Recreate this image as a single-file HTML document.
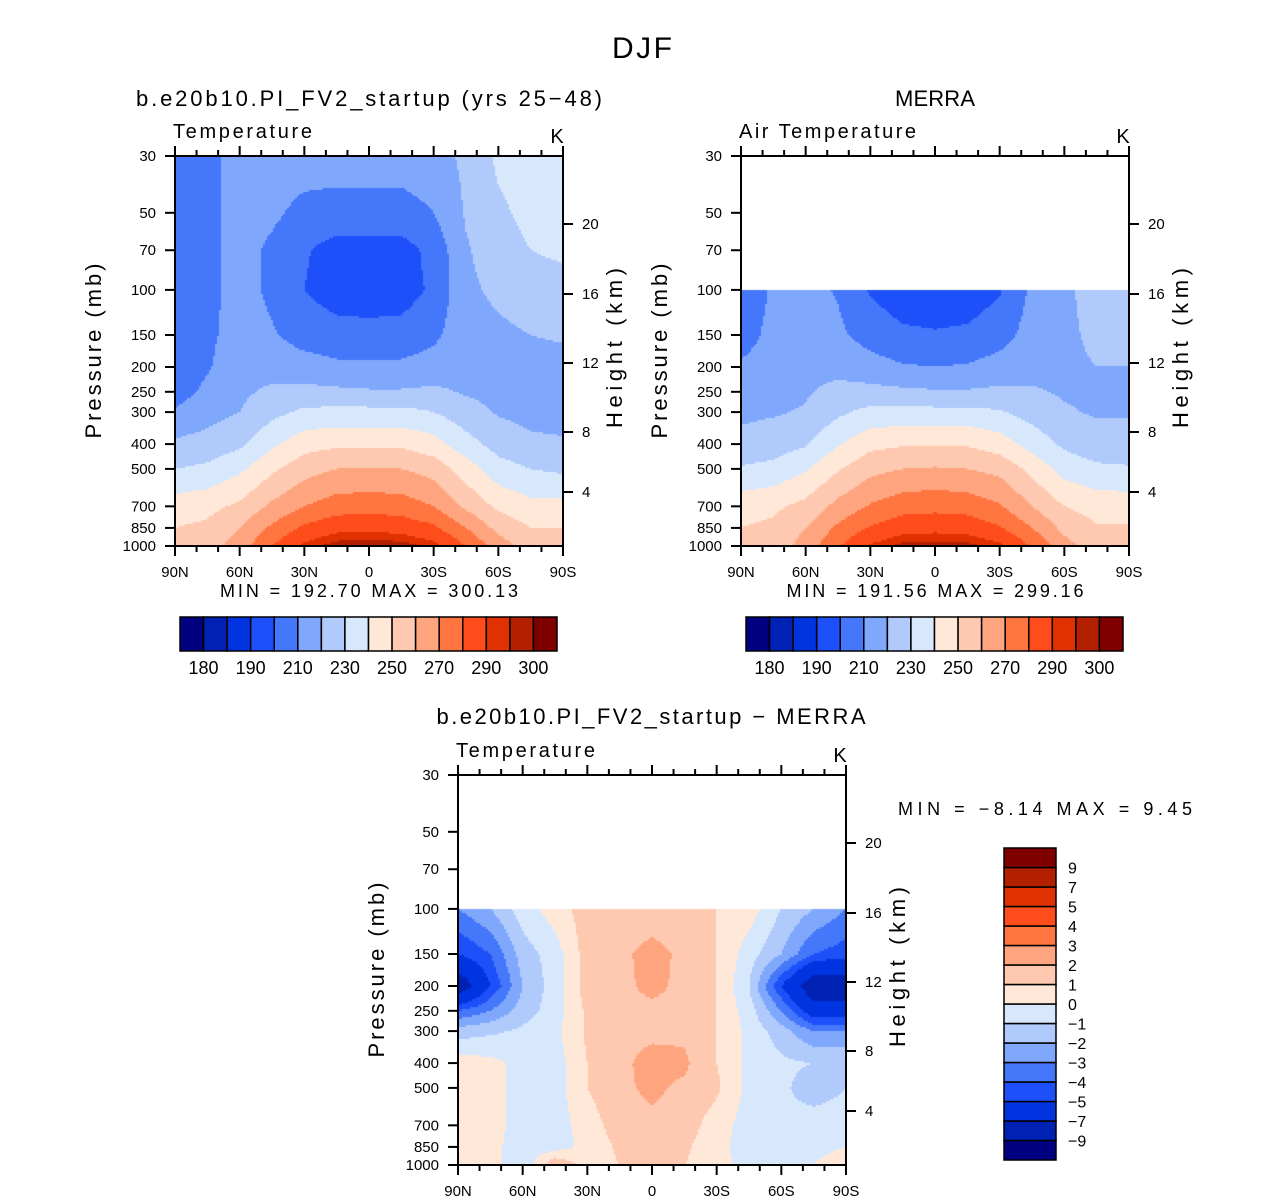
<!DOCTYPE html>
<html><head><meta charset="utf-8">
<style>
body{margin:0;background:#fff;}
#wrap{position:relative;width:1285px;height:1202px;font-family:"Liberation Sans",sans-serif;}
canvas{position:absolute;}
svg{position:absolute;left:0;top:0;}
</style></head>
<body>
<div id="wrap">
<canvas id="c1" width="388" height="390" style="left:175px;top:156px"></canvas>
<canvas id="c2" width="388" height="390" style="left:741px;top:156px"></canvas>
<canvas id="c3" width="388" height="390" style="left:458px;top:775px"></canvas>
<svg id="s" width="1285" height="1202"></svg>
</div>
<script>
const lats=[90,75,60,45,30,15,0,-15,-30,-45,-60,-75,-90];
const plevs=[1000,850,700,500,400,300,250,200,150,100,70,50,30];
const modelT=[
[250,255,265,280,292,298,299,298,293,280,265,255,250],
[250,252,260,272,282,287,288,286,282,270,257,250,250],
[245,247,252,262,270,275,276,275,270,258,248,243,243],
[230,232,238,248,256,260,260,260,256,245,234,230,228],
[222,224,228,238,246,248,248,248,244,234,226,222,221],
[211,216,220,227,232,233,233,233,230,224,219,217,217],
[206,212,218,222,223,222,221,221,222,219,217,216,216],
[205,209,216,216,214,212,212,212,214,216,216,217,217],
[205,208,214,211,206,204,203,204,208,216,218,220,221],
[205,207,214,208,200,195,195,195,202,218,222,225,226],
[205,207,214,208,201,196,196,196,203,219,225,230,232],
[205,207,214,212,207,206,206,206,210,221,228,233,235],
[205,207,214,215,215,215,215,215,216,222,232,235,235]];
const merraT=[
[250,254,264,279,291,297,298,297,292,279,264,254,250],
[250,252,260,272,281,286,287,286,281,270,257,251,251],
[246,248,253,263,271,276,277,276,271,260,250,246,246],
[231,233,239,249,257,260,261,260,257,247,236,232,231],
[223,225,229,239,247,249,249,249,245,236,228,224,224],
[218,219,221,228,233,233,233,233,231,226,221,219,219],
[214,215,219,223,223,222,221,221,222,221,219,219,219],
[211,213,217,217,214,211,210,211,214,217,219,220,220],
[207,212,216,212,206,202,201,202,206,214,219,221,221],
[205,211,214,209,199,194,193,194,199,212,219,222,222],
[null,null,null,null,null,null,null,null,null,null,null,null,null],
[null,null,null,null,null,null,null,null,null,null,null,null,null],
[null,null,null,null,null,null,null,null,null,null,null,null,null]];
const diffT=[
[0.5,0.5,-1,2,0.5,1,1,1,0.5,-0.5,-0.5,0,1],
[0.5,0.3,-0.5,-0.5,0.3,1.2,1.5,1.2,0.3,-0.5,-0.5,-0.5,0],
[0.5,0.3,-0.3,-0.5,0.5,1.5,1.8,1.5,0.5,-0.5,-0.8,-0.5,-0.5],
[0.5,0.3,-0.3,-0.5,1,1.8,2.2,1.8,1.2,-0.3,-0.8,-1.5,-1],
[0.5,0.3,-0.3,-0.5,1,1.8,2.3,2.2,1,-0.3,-0.8,-1,-1],
[-1.5,-1.2,-0.8,-0.3,1.2,1.8,1.8,1.8,1,-0.3,-1.5,-3,-3],
[-4,-3,-1.5,-0.5,1.2,1.8,1.8,1.8,1,-0.5,-3,-6,-6],
[-8.5,-5,-2,-0.5,1.5,1.8,2.2,1.8,1,-1,-5,-8.5,-8.5],
[-5,-4,-1.5,-0.5,1.5,1.8,2.3,1.8,1,-0.5,-2,-4,-4.5],
[-3,-2,-0.5,0.5,1.5,1.5,1.5,1.5,1,0.5,-1,-2,-3],
[null,null,null,null,null,null,null,null,null,null,null,null,null],
[null,null,null,null,null,null,null,null,null,null,null,null,null],
[null,null,null,null,null,null,null,null,null,null,null,null,null]];
const tLevels=[180,185,190,200,210,220,230,240,250,260,270,280,290,295,300];
const tLabels=['180','190','210','230','250','270','290','300'];
const dLevels=[-9,-7,-5,-4,-3,-2,-1,0,1,2,3,4,5,7,9];
const dLabels=['9','7','5','4','3','2','1','0','\u22121','\u22122','\u22123','\u22124','\u22125','\u22127','\u22129'];
const pTicks=[30,50,70,100,150,200,250,300,400,500,700,850,1000];
const hTicks=[20,16,12,8,4];
const hTickY=[68,138,207,276,336];
const latTicks=['90N','60N','30N','0','30S','60S','90S'];
const colors=['#000080','#0022b4','#0034e0','#1e50fa','#4477fa','#7fa8fc','#b0cafc','#d8e8fc','#ffe8d8','#fec9b0','#fea580','#fe7540','#fe4d1a','#e03200','#b22000','#800000'];

const W=388,H=390;
function yOfP(p){return Math.log10(p/30)/Math.log10(1000/30)*H;}
function sample(data,lat,p){
  const lp=Math.log10(p);
  let j=0;while(j<plevs.length-2 && Math.log10(plevs[j+1])>lp)j++;
  const a=Math.log10(plevs[j]),b=Math.log10(plevs[j+1]);
  let ty=(lp-a)/(b-a);ty=Math.max(0,Math.min(1,ty));
  let fi=(90-lat)/15;let i=Math.min(11,Math.floor(fi));let tx=fi-i;
  const v00=data[j][i],v01=data[j][i+1],v10=data[j+1][i],v11=data[j+1][i+1];
  if(v10==null||v11==null) return null;
  if(v00==null||v01==null){ if(ty<0.999) return null; return v10*(1-tx)+v11*tx;}
  return (v00*(1-tx)+v01*tx)*(1-ty)+(v10*(1-tx)+v11*tx)*ty;
}
function levelIdx(v,lev){let k=0;while(k<lev.length&&v>=lev[k])k++;return k;}
function draw(id,data,lev){
  const ctx=document.getElementById(id).getContext('2d');
  const step=2;
  for(let y=0;y<H;y+=step){
    const p=30*Math.pow(1000/30,(y+1)/H);
    for(let x=0;x<W;x+=step){
      const lat=90-(x+1)/W*180;
      const v=sample(data,lat,p);
      if(v==null)continue;
      ctx.fillStyle=colors[levelIdx(v,lev)];
      ctx.fillRect(x,y,step,step);
    }
  }
}
draw('c1',modelT,tLevels);draw('c2',merraT,tLevels);draw('c3',diffT,dLevels);

const svg=document.getElementById('s');const NS='http://www.w3.org/2000/svg';
function el(tag,attrs,txt){const e=document.createElementNS(NS,tag);for(const k in attrs)e.setAttribute(k,attrs[k]);if(txt!=null)e.textContent=txt;svg.appendChild(e);return e;}
function txt(x,y,s,size,anchor,name,rot,len){const e=el('text',{x:x,y:y,'font-size':size,'text-anchor':anchor||'middle',fill:'#000'},s);


if(len){e.setAttribute('textLength',len);e.setAttribute('lengthAdjust','spacing');}
if(rot)e.setAttribute('transform','rotate(-90 '+x+' '+y+')');return e;}

function panel(x0,y0,pfx,var1,varLen){
  const r=el('rect',{x:x0,y:y0,width:W,height:H,fill:'none',stroke:'#000','stroke-width':2});
  
  
  for(let k=0;k<=18;k++){const x=x0+k*W/18;const len=(k%3==0)?10:6;
    el('line',{x1:x,y1:y0,x2:x,y2:y0-len,stroke:'#000','stroke-width':2});
    el('line',{x1:x,y1:y0+H,x2:x,y2:y0+H+len,stroke:'#000','stroke-width':2});}
  latTicks.forEach((l,i)=>{txt(x0+i*W/6,y0+H+31,l,15,'middle',pfx+'x-tick-label');});
  pTicks.forEach(p=>{const y=y0+yOfP(p);el('line',{x1:x0,y1:y,x2:x0-10,y2:y,stroke:'#000','stroke-width':2});
    txt(x0-19,y+5,String(p),15,'end',pfx+'y-tick-label');});
  hTicks.forEach((h,i)=>{const y=y0+hTickY[i];el('line',{x1:x0+W,y1:y,x2:x0+W+10,y2:y,stroke:'#000','stroke-width':2});
    txt(x0+W+19,y+5,String(h),15,'start',pfx+'height-tick-label');});
  txt(x0-74,y0+H/2,'Pressure (mb)',22,'middle',pfx+'y-axis-title',true,175);
  txt(x0+W+59,y0+H/2-3,'Height (km)',22,'middle',pfx+'height-axis-title',true,160);
  txt(x0-2,y0-18,var1,20,'start',pfx+'variable-label',false,varLen);
  txt(x0+W-6,y0-13,'K',20,'middle',pfx+'units-label');
}
txt(642,58,'DJF',30,'middle','figure-title',false,60);
txt(369,106,'b.e20b10.PI_FV2_startup (yrs 25\u221248)',22,'middle','model-title',false,466);
txt(935,106,'MERRA',22,'middle','merra-title',false,80);
txt(651,724,'b.e20b10.PI_FV2_startup \u2212 MERRA',22,'middle','difference-title',false,429);
panel(175,156,'model-','Temperature',139);
panel(741,156,'merra-','Air Temperature',177);
panel(458,775,'diff-','Temperature',139);
txt(369,597,'MIN =  192.70   MAX =  300.13',18,'middle','model-min-max',false,298);
txt(935,597,'MIN =  191.56   MAX =  299.16',18,'middle','merra-min-max',false,297);
txt(1045,815,'MIN =   \u22128.14   MAX =    9.45',18,'middle','diff-min-max',false,294);

function hbar(x0,pfx){const bw=377/16;
  colors.forEach((c,i)=>{const r=el('rect',{x:x0+i*bw,y:617,width:bw,height:34,fill:c,stroke:'#000','stroke-width':1.5});
    
    });
  tLabels.forEach((l,i)=>{txt(x0+(1+2*i)*bw,674,l,18,'middle',pfx+'colorbar-label');});}
hbar(180,'model-');hbar(746,'merra-');
const bh=312/16;
colors.forEach((c,i)=>{const r=el('rect',{x:1004,y:848+(15-i)*bh,width:52,height:bh,fill:c,stroke:'#000','stroke-width':1.5});
  
  });
dLabels.forEach((l,i)=>{txt(1068,848+(i+1)*bh+6,l,16,'start','diff-colorbar-label');});
</script>
</body></html>
